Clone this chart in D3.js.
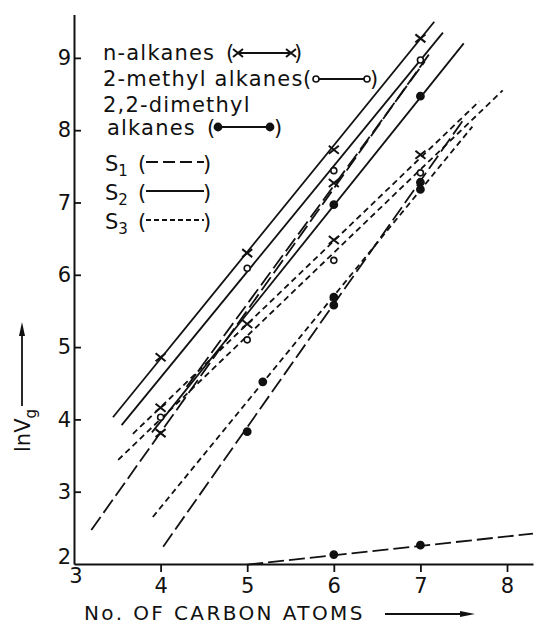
<!DOCTYPE html>
<html>
<head>
<meta charset="utf-8">
<script src="https://cdn.jsdelivr.net/npm/d3@7"></script>
<style>
  body { margin: 0; background: #fff; }
  text { font-family: 'DejaVu Sans', sans-serif; fill: #111; }
</style>
</head>
<body>
<div class="chart"></div>
<script>
const xTicks = [3, 4, 5, 6, 7, 8];
const yTicks = [2, 3, 4, 5, 6, 7, 8, 9];

// S2 (solid) - fitted line ends and measured points [carbon atoms, lnVg]
const nAlkS2Fit = [[3.45, 4.03], [7.16, 9.5]];
const nAlkS2 = [[4, 4.86], [5, 6.3], [6, 7.73], [7, 9.27]];
const meS2Fit = [[3.55, 3.92], [7.26, 9.35]];
const meS2 = [[5, 6.09], [6, 7.44], [7, 8.97]];
const dimeS2Fit = [[3.9, 3.82], [7.5, 9.2]];
const dimeS2 = [[6, 6.97], [7, 8.47]];

// S1 (long dash)
const nAlkS1Fit = [[3.2, 2.47], [7.1, 9.05]];
const nAlkS1 = [[4, 3.81], [6, 7.27]];
const meS1Fit = [[4.3, 4.45], [7.05, 8.95]];
const meS1 = [];
const dimeS1Fit = [[4.03, 2.24], [7.5, 8.15]];
const dimeS1 = [[5, 3.83], [6, 5.58], [7, 7.28]];
const lowS1Fit = [[5.0, 1.99], [8.3, 2.42]];
const lowS1 = [[6, 2.13], [7, 2.26]];

// S3 (short dash)
const nAlkS3Fit = [[3.68, 3.8], [7.68, 8.4]];
const nAlkS3 = [[4, 4.16], [5, 5.32], [6, 6.48], [7, 7.66]];
const meS3Fit = [[3.51, 3.44], [7.95, 8.55]];
const meS3 = [[4, 4.03], [5, 5.1], [6, 6.2], [7, 7.41]];
const dimeS3Fit = [[3.91, 2.65], [7.6, 8.05]];
const dimeS3 = [[5.18, 4.52], [6, 5.69], [7, 7.18]];

const dashes = { S1: '16,5', S2: null, S3: '6,4' };

const lines = [
  { fit: nAlkS2Fit, pts: nAlkS2, phase: 'S2', mark: 'cross' },
  { fit: meS2Fit, pts: meS2, phase: 'S2', mark: 'open' },
  { fit: dimeS2Fit, pts: dimeS2, phase: 'S2', mark: 'filled' },
  { fit: nAlkS1Fit, pts: nAlkS1, phase: 'S1', mark: 'cross' },
  { fit: meS1Fit, pts: meS1, phase: 'S1', mark: 'open' },
  { fit: dimeS1Fit, pts: dimeS1, phase: 'S1', mark: 'filled' },
  { fit: lowS1Fit, pts: lowS1, phase: 'S1', mark: 'filled' },
  { fit: nAlkS3Fit, pts: nAlkS3, phase: 'S3', mark: 'cross' },
  { fit: meS3Fit, pts: meS3, phase: 'S3', mark: 'open' },
  { fit: dimeS3Fit, pts: dimeS3, phase: 'S3', mark: 'filled' }
];

const width = 534, height = 624;

const svg = d3.select('.chart')
  .append('svg')
  .attr('width', width)
  .attr('height', height);

const x = d3.scaleLinear().domain([3, 8.3]).range([74, 533]);
const y = d3.scaleLinear().domain([2, 9.6]).range([564, 14.5]);

// axes
const xAxis = svg.append('g')
  .attr('transform', `translate(0,${y(2)})`)
  .call(d3.axisBottom(x).tickValues(xTicks.slice(1)).tickFormat(d3.format('d'))
    .tickSizeInner(8).tickSizeOuter(0).tickPadding(6));
const yAxis = svg.append('g')
  .attr('transform', `translate(${x(3)},0)`)
  .call(d3.axisLeft(y).tickValues(yTicks.slice(1)).tickFormat(d3.format('d'))
    .tickSizeInner(-7).tickSizeOuter(0).tickPadding(3));

[xAxis, yAxis].forEach(g => {
  g.select('.domain').attr('stroke', '#111').attr('stroke-width', 2);
  g.selectAll('.tick line').attr('stroke', '#111').attr('stroke-width', 1.8);
  g.selectAll('.tick text').style('font-size', '21px').attr('fill', '#111');
});

// corner labels "2" and "3"
svg.append('text').attr('x', x(3) - 3).attr('y', y(2)).attr('text-anchor', 'end')
  .style('font-size', '21px').text(yTicks[0]);
svg.append('text').attr('x', x(3) + 2).attr('y', y(2) + 19).attr('text-anchor', 'middle')
  .style('font-size', '21px').text(xTicks[0]);

// axis titles
svg.append('text').attr('x', 84).attr('y', 620)
  .style('font-size', '20px').style('letter-spacing', '2.4px')
  .text('No. OF CARBON ATOMS');
svg.append('line').attr('x1', 385).attr('x2', 462).attr('y1', 614).attr('y2', 614)
  .attr('stroke', '#111').attr('stroke-width', 1.8);
svg.append('path').attr('d', 'M460,611 L475,614 L460,617 Z').attr('fill', '#111');

const yTitle = svg.append('text')
  .attr('transform', 'translate(30,452) rotate(-90)')
  .style('font-size', '21px');
yTitle.append('tspan').text('lnV');
yTitle.append('tspan').attr('dy', 6).style('font-size', '15px').text('g');
svg.append('line').attr('x1', 22).attr('x2', 22).attr('y1', 406).attr('y2', 333)
  .attr('stroke', '#111').attr('stroke-width', 1.8);
svg.append('path').attr('d', 'M19,336 L22,322 L25,336 Z').attr('fill', '#111');

// data lines
const line = d3.line().x(d => x(d[0])).y(d => y(d[1]));

const groups = svg.selectAll('.series')
  .data(lines)
  .enter()
  .append('g')
  .attr('class', 'series');

groups.append('path')
  .attr('d', d => line(d.fit))
  .attr('fill', 'none')
  .attr('stroke', '#111')
  .attr('stroke-width', 1.8)
  .attr('stroke-dasharray', d => dashes[d.phase]);

function drawMark(g, type, cx, cy) {
  if (type === 'cross') {
    g.append('path')
      .attr('d', `M${cx - 5},${cy - 4}L${cx + 5},${cy + 4}M${cx - 5},${cy + 4}L${cx + 5},${cy - 4}`)
      .attr('stroke', '#111').attr('stroke-width', 2);
  } else {
    g.append('circle')
      .attr('cx', cx).attr('cy', cy)
      .attr('r', type === 'open' ? 3 : 3.6)
      .attr('fill', type === 'open' ? '#fff' : '#111')
      .attr('stroke', '#111').attr('stroke-width', 1.6);
  }
}

groups.each(function (d) {
  const g = d3.select(this);
  d.pts.forEach(p => drawMark(g, d.mark, x(p[0]), y(p[1])));
});

// legend
const legendSeries = ['n-alkanes', '2-methyl alkanes', '2,2-dimethyl', 'alkanes'];
const legendPhases = ['S1', 'S2', 'S3'];
const fs = '21px';
const leg = svg.append('g');

function legText(tx, ty, s) {
  return leg.append('text').attr('x', tx).attr('y', ty)
    .style('font-size', fs).style('letter-spacing', '1.2px').text(s);
}
function paren(px, py, s) {
  leg.append('text').attr('x', px).attr('y', py).style('font-size', fs).text(s);
}

// series rows
const rows = [
  { t: legendSeries[0], tx: 103, ty: 60, p1: 226, a: 238, b: 291, p2: 294, ly: 53, mark: 'cross' },
  { t: legendSeries[1], tx: 103, ty: 86, p1: 303, a: 316, b: 367, p2: 370, ly: 79, mark: 'open' },
  { t: legendSeries[3], tx: 107, ty: 135, p1: 207, a: 218, b: 270, p2: 274, ly: 127, mark: 'filled' }
];
legText(103, 112, legendSeries[2]);
rows.forEach(r => {
  legText(r.tx, r.ty, r.t);
  paren(r.p1, r.ty, '(');
  paren(r.p2, r.ty, ')');
  leg.append('line').attr('x1', r.a).attr('x2', r.b).attr('y1', r.ly).attr('y2', r.ly)
    .attr('stroke', '#111').attr('stroke-width', 1.8);
  drawMark(leg, r.mark, r.a, r.ly);
  drawMark(leg, r.mark, r.b, r.ly);
});

legendPhases.forEach((ph, i) => {
  const ty = 171 + i * 29;
  const t = leg.append('text').attr('x', 105).attr('y', ty).style('font-size', fs);
  t.append('tspan').text('S');
  t.append('tspan').attr('dy', 5).style('font-size', '15px').text(ph.slice(1));
  paren(138, ty, '(');
  paren(203, ty, ')');
  leg.append('line').attr('x1', 146).attr('x2', 204).attr('y1', ty - 9).attr('y2', ty - 9)
    .attr('stroke', '#111').attr('stroke-width', 1.8)
    .attr('stroke-dasharray', dashes[ph] ? (ph === 'S1' ? '12,5' : '5,3') : null);
});
</script>
</body>
</html>
